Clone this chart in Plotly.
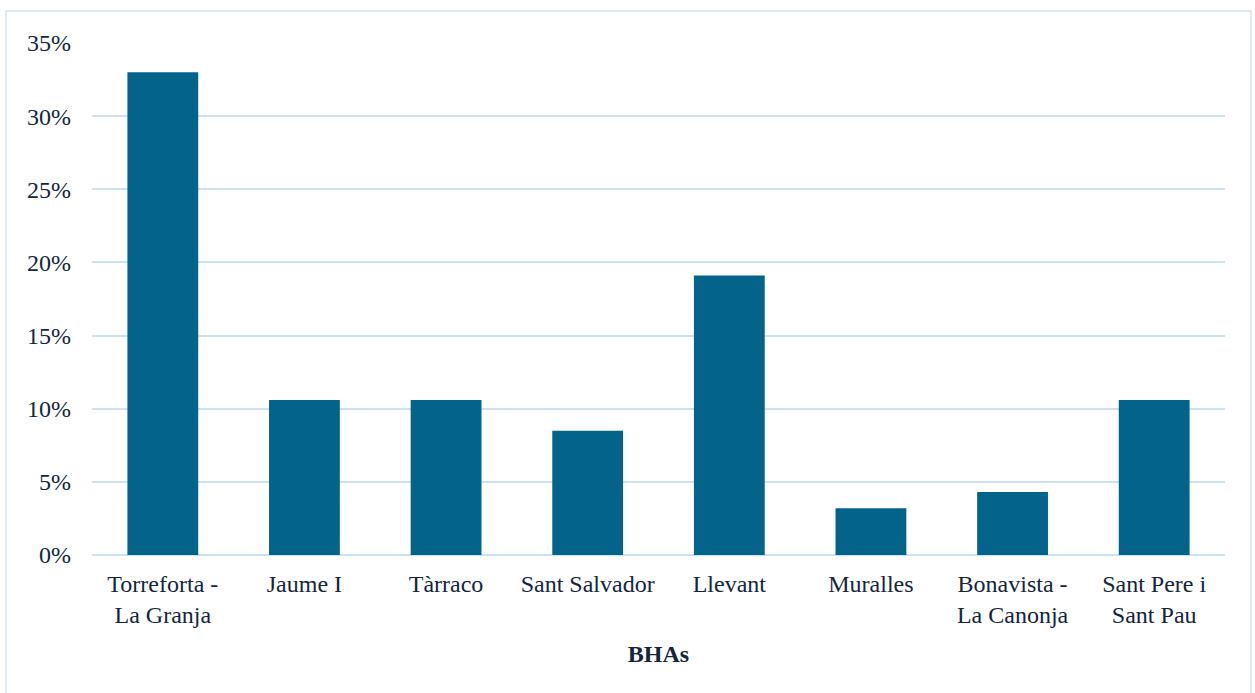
import plotly.graph_objects as go

categories = ["Torreforta -<br>La Granja", "Jaume I", "Tàrraco", "Sant Salvador",
              "Llevant", "Muralles", "Bonavista -<br>La Canonja", "Sant Pere i<br>Sant Pau"]
values = [0.330, 0.106, 0.106, 0.085, 0.191, 0.032, 0.043, 0.106]
y_ticks = [0, 0.05, 0.10, 0.15, 0.20, 0.25, 0.30, 0.35]
y_ticktext = ["0%", "5%", "10%", "15%", "20%", "25%", "30%", "35%"]
x_title = "BHAs"

font_family = "Liberation Serif, Times New Roman, serif"
text_color = "#14263d"

fig = go.Figure()
fig.add_trace(go.Bar(
    x=categories, y=values,
    marker=dict(color="#03638a", line=dict(width=0)),
))

fig.update_layout(
    width=1255, height=693,
    margin=dict(l=92, r=30, t=43, b=138),
    paper_bgcolor="white", plot_bgcolor="white",
    bargap=0.5,
    showlegend=False,
    font=dict(family=font_family, size=24, color=text_color),
    xaxis=dict(
        title=dict(text="<b>" + x_title + "</b>", font=dict(size=24, color=text_color), standoff=17),
        showgrid=False, showline=False, ticks="", ticklabelstandoff=12,
        tickfont=dict(size=24, color=text_color),
    ),
    yaxis=dict(
        range=[0, 0.35], tickvals=y_ticks, ticktext=y_ticktext,
        showgrid=True, gridcolor="#cde2ef", gridwidth=1.5,
        zeroline=True, zerolinecolor="#cde2ef", zerolinewidth=1.5,
        showline=False, ticks="", ticklabelstandoff=20,
        tickfont=dict(size=24, color=text_color),
    ),
    shapes=[dict(type="rect", xref="paper", yref="paper",
                 x0=-0.0759, x1=1.0229, y0=-0.3, y1=1.0625,
                 line=dict(color="#d3e5f1", width=1.5), fillcolor="rgba(0,0,0,0)",
                 layer="below")],
)

fig.write_html("out.html")
